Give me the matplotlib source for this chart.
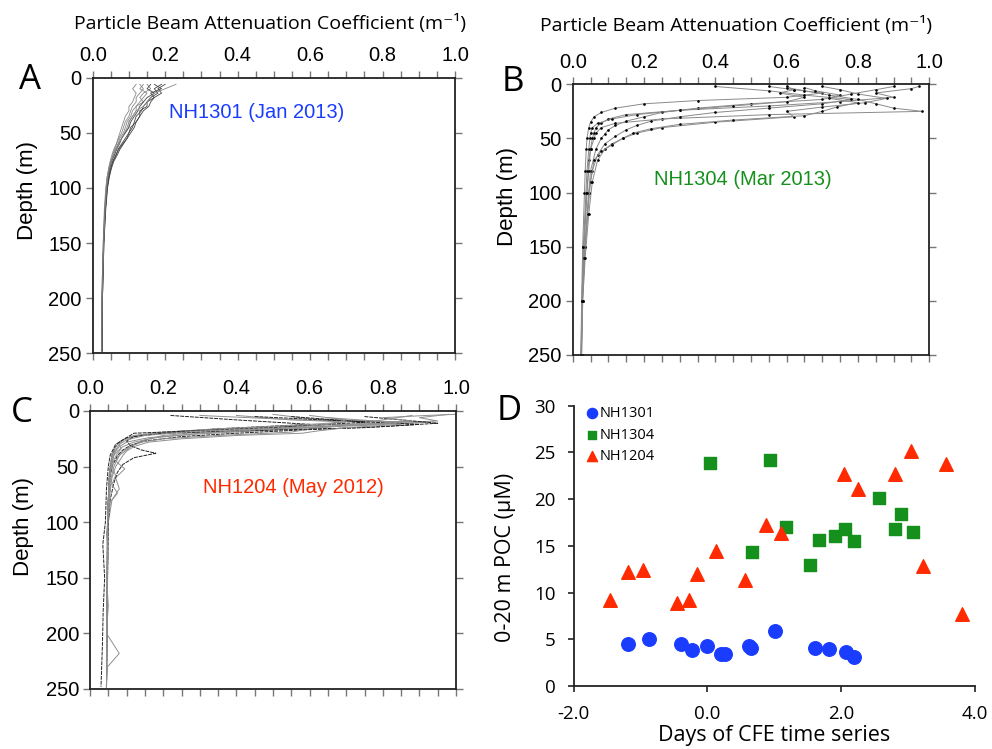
import matplotlib
matplotlib.use("Agg")
import matplotlib.pyplot as plt
from matplotlib.ticker import MultipleLocator, FormatStrFormatter

# ── Panel A: NH1301 (Jan 2013) beam attenuation profiles ─────────────────────
depth_a = [6, 10, 14, 18, 22, 26, 30, 35, 40, 45, 50, 55, 60, 65, 70, 76, 82,
           90, 100, 120, 150, 200, 248]
profiles_a = [
    [0.14, 0.13, 0.15, 0.14, 0.13, 0.12, 0.12, 0.11, 0.10, 0.10, 0.09, 0.08, 0.07, 0.065, 0.06, 0.05, 0.045, 0.04, 0.038, 0.034, 0.030, 0.026, 0.025],
    [0.19, 0.17, 0.18, 0.16, 0.15, 0.14, 0.135, 0.12, 0.115, 0.11, 0.10, 0.09, 0.08, 0.07, 0.065, 0.055, 0.05, 0.045, 0.04, 0.035, 0.031, 0.027, 0.026],
    [0.12, 0.11, 0.12, 0.115, 0.11, 0.10, 0.10, 0.09, 0.085, 0.08, 0.075, 0.07, 0.065, 0.06, 0.055, 0.05, 0.045, 0.04, 0.036, 0.032, 0.029, 0.025, 0.024],
    [0.17, 0.19, 0.16, 0.17, 0.15, 0.15, 0.13, 0.13, 0.12, 0.105, 0.10, 0.095, 0.085, 0.075, 0.068, 0.058, 0.052, 0.046, 0.041, 0.036, 0.031, 0.027, 0.026],
    [0.15, 0.16, 0.14, 0.13, 0.14, 0.12, 0.11, 0.105, 0.095, 0.09, 0.085, 0.075, 0.07, 0.062, 0.057, 0.05, 0.047, 0.042, 0.038, 0.033, 0.030, 0.026, 0.025],
    [0.20, 0.18, 0.19, 0.17, 0.16, 0.155, 0.14, 0.13, 0.12, 0.115, 0.105, 0.095, 0.083, 0.072, 0.064, 0.056, 0.05, 0.044, 0.040, 0.035, 0.030, 0.027, 0.026],
    [0.13, 0.14, 0.13, 0.12, 0.12, 0.11, 0.105, 0.10, 0.09, 0.085, 0.08, 0.072, 0.066, 0.058, 0.053, 0.048, 0.044, 0.040, 0.037, 0.033, 0.029, 0.025, 0.024],
    [0.16, 0.15, 0.17, 0.15, 0.14, 0.13, 0.125, 0.115, 0.105, 0.10, 0.09, 0.08, 0.074, 0.066, 0.06, 0.052, 0.047, 0.043, 0.039, 0.034, 0.030, 0.026, 0.025],
    [0.23, 0.20, 0.17, 0.16, 0.15, 0.14, 0.12, 0.11, 0.10, 0.095, 0.088, 0.08, 0.072, 0.064, 0.058, 0.051, 0.046, 0.042, 0.038, 0.034, 0.030, 0.026, 0.025],
]

# ── Panel B: NH1304 (Mar 2013) ───────────────────────────────────────────────
profiles_b = [
    ([2, 5, 8, 12, 15, 18, 22, 26, 30, 35, 40, 50, 60, 80, 100, 150, 200, 250],
     [0.55, 0.62, 0.70, 0.60, 0.35, 0.20, 0.12, 0.08, 0.06, 0.05, 0.045, 0.04, 0.038, 0.035, 0.033, 0.028, 0.025, 0.023]),
    ([2, 4, 8, 12, 16, 20, 24, 28, 32, 36, 40, 45, 50, 60, 70, 100, 150, 200, 250],
     [0.97, 0.95, 0.85, 0.90, 0.75, 0.55, 0.30, 0.15, 0.10, 0.08, 0.065, 0.06, 0.055, 0.05, 0.045, 0.04, 0.03, 0.026, 0.024]),
    ([3, 6, 10, 14, 18, 22, 25, 28, 32, 36, 40, 45, 50, 60, 80, 100, 150, 200, 250],
     [0.60, 0.65, 0.72, 0.80, 0.85, 0.90, 0.98, 0.55, 0.25, 0.12, 0.08, 0.065, 0.06, 0.05, 0.045, 0.04, 0.032, 0.027, 0.024]),
    ([2, 6, 10, 14, 18, 22, 26, 30, 34, 38, 42, 48, 55, 65, 80, 100, 150, 200, 250],
     [0.40, 0.55, 0.65, 0.78, 0.70, 0.55, 0.40, 0.30, 0.22, 0.18, 0.15, 0.12, 0.09, 0.07, 0.055, 0.045, 0.035, 0.028, 0.025]),
    ([2, 5, 9, 13, 17, 21, 25, 30, 35, 40, 45, 50, 55, 60, 70, 90, 120, 160, 200, 250],
     [0.70, 0.75, 0.80, 0.88, 0.82, 0.70, 0.60, 0.62, 0.40, 0.25, 0.18, 0.14, 0.11, 0.09, 0.07, 0.055, 0.045, 0.035, 0.028, 0.025]),
    ([3, 6, 10, 14, 18, 22, 26, 30, 34, 38, 42, 46, 50, 60, 80, 100, 150, 200, 250],
     [0.65, 0.68, 0.75, 0.70, 0.50, 0.35, 0.25, 0.20, 0.15, 0.12, 0.10, 0.09, 0.08, 0.065, 0.05, 0.045, 0.034, 0.027, 0.024]),
    ([2, 5, 8, 12, 16, 20, 24, 28, 32, 36, 40, 45, 50, 60, 80, 100, 150, 200, 250],
     [0.60, 0.62, 0.58, 0.65, 0.60, 0.45, 0.30, 0.18, 0.11, 0.07, 0.055, 0.05, 0.048, 0.045, 0.04, 0.037, 0.03, 0.026, 0.023]),
    ([2, 5, 9, 13, 17, 21, 25, 29, 33, 37, 41, 45, 50, 56, 62, 70, 90, 120, 160, 200, 250],
     [0.90, 0.85, 0.78, 0.72, 0.80, 0.74, 0.70, 0.65, 0.45, 0.30, 0.22, 0.17, 0.14, 0.11, 0.08, 0.06, 0.05, 0.042, 0.033, 0.027, 0.024]),
]

# ── Panel C: NH1204 (May 2012) ───────────────────────────────────────────────
profiles_c = [
    ([4, 8, 12, 16, 20, 24, 28, 32, 36, 40, 45, 50, 60, 80, 100, 150, 200, 248],
     [0.22, 0.40, 0.60, 0.35, 0.18, 0.10, 0.08, 0.07, 0.065, 0.06, 0.058, 0.055, 0.052, 0.05, 0.048, 0.047, 0.046, 0.045]),
    ([3, 6, 9, 12, 15, 18, 22, 26, 30, 35, 40, 50, 60, 80, 100, 150, 200, 248],
     [0.98, 0.90, 0.95, 0.70, 0.45, 0.25, 0.13, 0.09, 0.075, 0.065, 0.06, 0.055, 0.052, 0.05, 0.048, 0.047, 0.046, 0.045]),
    ([4, 8, 10, 13, 16, 19, 22, 26, 30, 35, 40, 45, 52, 60, 70, 80, 100, 150, 200, 248],
     [0.40, 0.55, 0.93, 0.75, 0.50, 0.30, 0.20, 0.15, 0.12, 0.10, 0.08, 0.07, 0.095, 0.07, 0.08, 0.06, 0.05, 0.048, 0.046, 0.045]),
    ([5, 8, 11, 14, 17, 20, 23, 27, 31, 35, 40, 50, 60, 80, 100, 150, 200, 248],
     [0.75, 0.85, 0.95, 0.80, 0.58, 0.40, 0.25, 0.15, 0.11, 0.09, 0.075, 0.06, 0.055, 0.05, 0.048, 0.047, 0.046, 0.045]),
    ([3, 7, 10, 13, 16, 19, 22, 25, 28, 32, 36, 40, 50, 60, 80, 100, 150, 200, 248],
     [0.50, 0.60, 0.85, 0.70, 0.60, 0.55, 0.35, 0.20, 0.14, 0.11, 0.09, 0.08, 0.065, 0.058, 0.052, 0.048, 0.047, 0.046, 0.045]),
    ([4, 8, 12, 15, 18, 21, 24, 28, 32, 36, 42, 50, 60, 80, 100, 150, 200, 248],
     [0.88, 0.80, 0.72, 0.60, 0.45, 0.28, 0.16, 0.10, 0.08, 0.07, 0.063, 0.058, 0.054, 0.05, 0.048, 0.047, 0.046, 0.045]),
    ([5, 9, 12, 15, 18, 20, 23, 27, 31, 35, 38, 42, 48, 55, 65, 80, 100, 150, 200, 248],
     [0.45, 0.70, 0.90, 0.75, 0.40, 0.20, 0.12, 0.10, 0.11, 0.14, 0.18, 0.12, 0.09, 0.075, 0.065, 0.055, 0.05, 0.048, 0.046, 0.045]),
    ([6, 9, 12, 15, 18, 20, 22, 25, 28, 32, 36, 40, 45, 50, 60, 80, 100, 150, 200, 248],
     [0.65, 0.78, 0.85, 0.70, 0.62, 0.58, 0.40, 0.25, 0.16, 0.12, 0.10, 0.09, 0.08, 0.07, 0.06, 0.052, 0.049, 0.047, 0.046, 0.045]),
    ([4, 7, 10, 13, 16, 19, 22, 26, 30, 34, 38, 44, 50, 58, 66, 74, 82, 95, 110, 130, 150, 175, 200, 218, 230, 248],
     [0.30, 0.50, 0.70, 0.55, 0.35, 0.20, 0.12, 0.09, 0.08, 0.085, 0.075, 0.065, 0.06, 0.07, 0.06, 0.075, 0.055, 0.05, 0.045, 0.05, 0.045, 0.05, 0.045, 0.08, 0.048, 0.045]),
    ([5, 10, 15, 20, 30, 40, 50, 70, 100, 120, 150, 180, 210, 248],
     [0.55, 0.75, 0.50, 0.12, 0.07, 0.055, 0.05, 0.045, 0.042, 0.035, 0.04, 0.036, 0.034, 0.03]),
    ([3, 4, 6, 9, 12, 15, 18, 22, 26, 30, 35, 40, 50, 60, 80, 100, 150, 200, 248],
     [1.0, 0.92, 0.80, 0.88, 0.78, 0.55, 0.30, 0.15, 0.10, 0.08, 0.07, 0.062, 0.056, 0.053, 0.05, 0.048, 0.047, 0.046, 0.045]),
    ([4, 8, 12, 16, 20, 24, 28, 32, 36, 40, 50, 60, 80, 100, 150, 200, 248],
     [0.60, 0.70, 0.65, 0.50, 0.30, 0.18, 0.12, 0.09, 0.075, 0.065, 0.058, 0.054, 0.05, 0.048, 0.047, 0.046, 0.045]),
]

# ── Panel D: 0-20 m POC vs days of CFE time series ───────────────────────────
nh1301_days = [-1.19, -0.87, -0.39, -0.23, -0.01, 0.21, 0.26, 0.63, 0.65, 1.01, 1.61, 1.82, 2.08, 2.20]
nh1301_poc = [4.46, 4.99, 4.46, 3.85, 4.28, 3.42, 3.42, 4.28, 4.03, 5.92, 4.03, 3.96, 3.67, 3.14]
nh1304_days = [0.04, 0.93, 1.18, 0.67, 1.54, 1.67, 1.91, 2.06, 2.19, 2.57, 2.80, 2.89, 3.07]
nh1304_poc = [23.9, 24.15, 17.05, 14.3, 12.95, 15.6, 16.05, 16.8, 15.5, 20.1, 16.8, 18.45, 16.5]
nh1204_days = [-1.46, -1.19, -0.96, -0.46, -0.27, -0.15, 0.13, 0.56, 0.87, 1.10, 2.05, 2.25, 2.81, 3.05, 3.23, 3.57, 3.81]
nh1204_poc = [9.2, 12.2, 12.4, 8.9, 9.2, 11.95, 14.5, 11.3, 17.2, 16.4, 22.7, 21.05, 22.7, 25.1, 12.8, 23.8, 7.7]

BLUE = "#1a3cff"
GREEN = "#16901c"
RED = "#ff2a00"
HELV = "Liberation Sans"
HUMAN = ["Open Sans", "DejaVu Sans"]

W, H = 992, 749


def fx(px):
    return px / W


def fy(py):
    return 1 - py / H


def style_profile(ax):
    ax.set_xlim(0, 1)
    ax.set_ylim(250, 0)
    ax.xaxis.set_major_locator(MultipleLocator(0.2))
    ax.xaxis.set_minor_locator(MultipleLocator(0.05))
    ax.yaxis.set_major_locator(MultipleLocator(50))
    ax.xaxis.set_major_formatter(FormatStrFormatter("%.1f"))
    ax.tick_params(which="both", direction="out", top=True, bottom=True,
                   left=True, right=True, labeltop=True, labelbottom=False,
                   length=5, width=1, color="#777777")
    ax.tick_params(axis="x", pad=4)
    ax.tick_params(axis="y", pad=3)
    for lab in ax.get_xticklabels() + ax.get_yticklabels():
        lab.set_fontfamily(HELV)
        lab.set_fontsize(14.5)
    for sp in ax.spines.values():
        sp.set_linewidth(1.3)
        sp.set_color("#222222")


fig = plt.figure(figsize=(9.92, 7.49), dpi=100, facecolor="white")

ax_a = fig.add_axes([fx(92.7), fy(353.3), fx(455 - 92.7), (353.3 - 77.7) / H])
ax_b = fig.add_axes([fx(572.7), fy(355), fx(929.3 - 572.7), (355 - 84.3) / H])
ax_c = fig.add_axes([fx(90), fy(689), fx(456 - 90), (689 - 411) / H])
ax_d = fig.add_axes([fx(573.7), fy(686), fx(974.7 - 573.7), (686 - 405.7) / H])

# A
for i, prof in enumerate(profiles_a):
    ax_a.plot(prof, depth_a, color="#444444" if i % 2 else "#888888", lw=0.6)
style_profile(ax_a)
ax_a.text(0.21, 32, "NH1301 (Jan 2013)", color=BLUE, fontsize=14.5,
          family=HELV, ha="left", va="center")

# B
for d, c in profiles_b:
    ax_b.plot(c, d, color="#8a8a8a", lw=0.7, marker=".", ms=1.8,
              mfc="black", mec="black")
style_profile(ax_b)
ax_b.text(0.228, 88, "NH1304 (Mar 2013)", color=GREEN, fontsize=14.5,
          family=HELV, ha="left", va="center")

# C
for i, (d, c) in enumerate(profiles_c):
    if i % 3 == 0:
        ax_c.plot(c, d, color="#222222", lw=0.7, ls=(0, (4, 1)))
    else:
        ax_c.plot(c, d, color="#8f8f8f", lw=0.7)
style_profile(ax_c)
ax_c.text(0.309, 69, "NH1204 (May 2012)", color=RED, fontsize=14.5,
          family=HELV, ha="left", va="center")

# D
ax_d.scatter(nh1301_days, nh1301_poc, s=95, marker="o", color=BLUE,
             label="NH1301", zorder=3, clip_on=False)
ax_d.scatter(nh1304_days, nh1304_poc, s=65, marker="s", color=GREEN,
             label="NH1304", zorder=3, clip_on=False)
ax_d.scatter(nh1204_days, nh1204_poc, s=95, marker="^", color=RED,
             label="NH1204", zorder=3, clip_on=False)
ax_d.set_xlim(-2, 4)
ax_d.set_ylim(0, 30)
ax_d.set_xticks([-2, 0, 2, 4])
ax_d.set_xticklabels(["-2.0", "0.0", "2.0", "4.0"])
ax_d.set_yticks([0, 5, 10, 15, 20, 25, 30])
ax_d.spines["top"].set_visible(False)
ax_d.spines["right"].set_visible(False)
for sp in ("left", "bottom"):
    ax_d.spines[sp].set_linewidth(1.3)
    ax_d.spines[sp].set_color("#222222")
ax_d.tick_params(direction="out", length=4, width=1.2, color="#222222")
ax_d.tick_params(axis="y", pad=9)
ax_d.tick_params(axis="x", pad=10)
for lab in ax_d.get_xticklabels() + ax_d.get_yticklabels():
    lab.set_fontfamily(HUMAN)
    lab.set_fontsize(13.5)
leg = ax_d.legend(loc="upper left", bbox_to_anchor=(0.0, 1.03), frameon=False,
                  handletextpad=-0.1, handlelength=1.3, labelspacing=0.45,
                  borderaxespad=0.2, markerscale=0.75,
                  prop={"family": HUMAN, "size": 10.5})

# titles, axis labels, panel letters
title = "Particle Beam Attenuation Coefficient (m\u207b\u00b9)"
fig.text(fx(270), fy(23), title, fontsize=14, family=HUMAN, ha="center", va="center")
fig.text(fx(736), fy(25), title, fontsize=14, family=HUMAN, ha="center", va="center")

for x, y in [(27, 191), (508, 197), (23, 527)]:
    fig.text(fx(x), fy(y), "Depth (m)", fontsize=16, family=HELV, rotation=90,
             ha="center", va="center")

fig.text(fx(506), fy(557), "0-20 m POC (\u03bcM)", fontsize=15.5, family=HUMAN,
         rotation=90, ha="center", va="center")
fig.text(fx(774), fy(735), "Days of CFE time series", fontsize=15.5, family=HUMAN,
         ha="center", va="center")

for letter, x, y in [("A", 30, 80), ("B", 513, 82), ("C", 22, 413), ("D", 509, 411)]:
    fig.text(fx(x), fy(y), letter, fontsize=25, family=HUMAN, ha="center", va="center")

fig.savefig("out.png", dpi=100, facecolor="white")
